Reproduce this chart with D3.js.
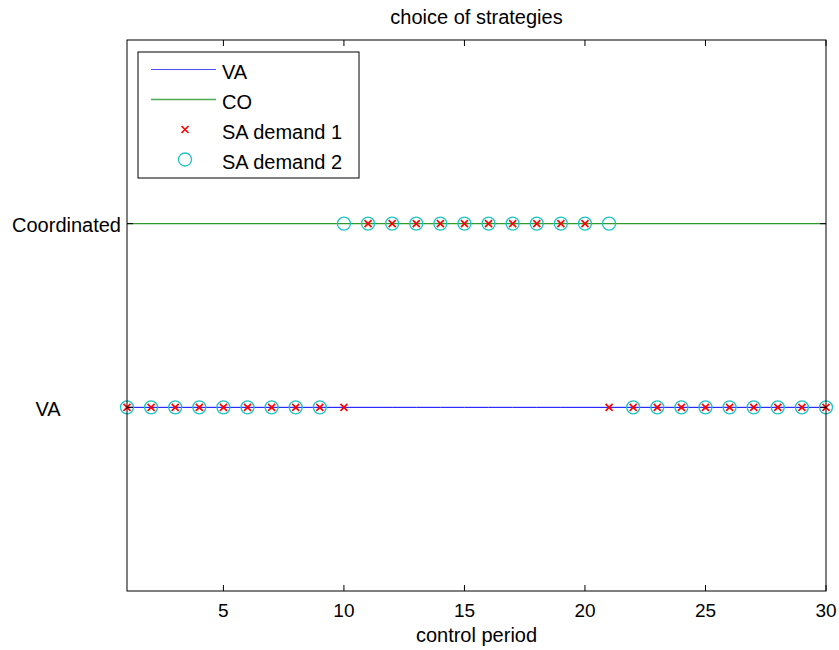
<!DOCTYPE html>
<html>
<head>
<meta charset="utf-8">
<script src="https://cdn.jsdelivr.net/npm/d3@7"></script>
<style>
  body { margin: 0; background: #fff; }
  svg { display: block; font-family: Arial, "Liberation Sans", sans-serif; }
</style>
</head>
<body>
<svg id="chart" width="839" height="650"></svg>
<script>
// Control periods and the strategy chosen in each one (1 = VA, 2 = Coordinated)
const periods = [1,2,3,4,5,6,7,8,9,10,11,12,13,14,15,16,17,18,19,20,21,22,23,24,25,26,27,28,29,30];
const vaLevel = [1,1,1,1,1,1,1,1,1,1,1,1,1,1,1,1,1,1,1,1,1,1,1,1,1,1,1,1,1,1];
const coLevel = [2,2,2,2,2,2,2,2,2,2,2,2,2,2,2,2,2,2,2,2,2,2,2,2,2,2,2,2,2,2];
const saDemand1 = [1,1,1,1,1,1,1,1,1,1,2,2,2,2,2,2,2,2,2,2,1,1,1,1,1,1,1,1,1,1];
const saDemand2 = [1,1,1,1,1,1,1,1,1,2,2,2,2,2,2,2,2,2,2,2,2,1,1,1,1,1,1,1,1,1];
const xTicks = [5,10,15,20,25,30];
const yTicks = [1,2];
const yTickLabels = ["VA", "Coordinated"];
const legendNames = ["VA", "CO", "SA demand 1", "SA demand 2"];

const svg = d3.select("#chart");
const plotLeft = 127, plotRight = 826, plotTop = 40, plotBottom = 591;

const x = d3.scaleLinear().domain([1, 30]).range([plotLeft, plotRight]);
const y = d3.scaleLinear().domain([0, 3]).range([plotBottom, plotTop]);

const blue = "#0000ff", green = "#2e9a2e", red = "#ff0000", cyan = "#1cc4c4";

// Strategy lines
const line = d3.line().x((d, i) => x(periods[i])).y(d => y(d));
svg.append("path").datum(vaLevel).attr("d", line)
  .attr("fill", "none").attr("stroke", blue).attr("stroke-width", 1);
svg.append("path").datum(coLevel).attr("d", line)
  .attr("fill", "none").attr("stroke", green).attr("stroke-width", 1.3);

// Marker helpers
function cross(g, cx, cy) {
  const s = 3.5;
  g.append("path")
    .attr("d", `M${cx - s},${cy - s}L${cx + s},${cy + s}M${cx - s},${cy + s}L${cx + s},${cy - s}`)
    .attr("stroke", red).attr("stroke-width", 1.6).attr("fill", "none");
}
function ring(g, cx, cy) {
  g.append("circle").attr("cx", cx).attr("cy", cy).attr("r", 6.5)
    .attr("fill", "none").attr("stroke", cyan).attr("stroke-width", 1.3);
}

const marks = svg.append("g");
saDemand1.forEach((v, i) => cross(marks, x(periods[i]), y(v)));
saDemand2.forEach((v, i) => ring(marks, x(periods[i]), y(v)));

// Axes box with inward ticks
const axes = svg.append("g");
axes.append("rect").attr("x", plotLeft).attr("y", plotTop)
  .attr("width", plotRight - plotLeft).attr("height", plotBottom - plotTop)
  .attr("fill", "none").attr("stroke", "#000").attr("stroke-width", 1);

const tl = 6;
xTicks.forEach(t => {
  axes.append("line").attr("x1", x(t)).attr("x2", x(t)).attr("y1", plotBottom).attr("y2", plotBottom - tl)
    .attr("stroke", "#000");
  axes.append("line").attr("x1", x(t)).attr("x2", x(t)).attr("y1", plotTop).attr("y2", plotTop + tl)
    .attr("stroke", "#000");
  axes.append("text").attr("x", x(t)).attr("y", 617)
    .attr("text-anchor", "middle").attr("font-size", 19).text(t);
});
yTicks.forEach(t => {
  axes.append("line").attr("x1", plotLeft).attr("x2", plotLeft + tl).attr("y1", y(t)).attr("y2", y(t))
    .attr("stroke", "#000");
  axes.append("line").attr("x1", plotRight).attr("x2", plotRight - tl).attr("y1", y(t)).attr("y2", y(t))
    .attr("stroke", "#000");
});
// y tick labels
axes.append("text").attr("x", 48).attr("y", y(yTicks[0]) + 9)
  .attr("text-anchor", "middle").attr("font-size", 20).text(yTickLabels[0]);
axes.append("text").attr("x", 121).attr("y", y(yTicks[1]) + 8)
  .attr("text-anchor", "end").attr("font-size", 20).text(yTickLabels[1]);

// Title and axis label
svg.append("text").attr("x", (plotLeft + plotRight) / 2).attr("y", 24)
  .attr("text-anchor", "middle").attr("font-size", 20).text("choice of strategies");
svg.append("text").attr("x", (plotLeft + plotRight) / 2).attr("y", 642)
  .attr("text-anchor", "middle").attr("font-size", 20).text("control period");

// Legend
const lg = svg.append("g");
lg.append("rect").attr("x", 138).attr("y", 52).attr("width", 221).attr("height", 126)
  .attr("fill", "#fff").attr("stroke", "#000").attr("stroke-width", 1);
const rowY = [69.5, 99.5, 129.5, 159.5];
lg.append("line").attr("x1", 151).attr("x2", 216).attr("y1", rowY[0]).attr("y2", rowY[0])
  .attr("stroke", "#5050f0").attr("stroke-width", 1);
lg.append("line").attr("x1", 151).attr("x2", 216).attr("y1", rowY[1]).attr("y2", rowY[1])
  .attr("stroke", "#50a850").attr("stroke-width", 1.3);
cross(lg, 185, rowY[2]);
ring(lg, 185, rowY[3]);
legendNames.forEach((n, i) => {
  lg.append("text").attr("x", 222).attr("y", rowY[i] + 9.5)
    .attr("font-size", 20).text(n);
});
</script>
</body>
</html>
